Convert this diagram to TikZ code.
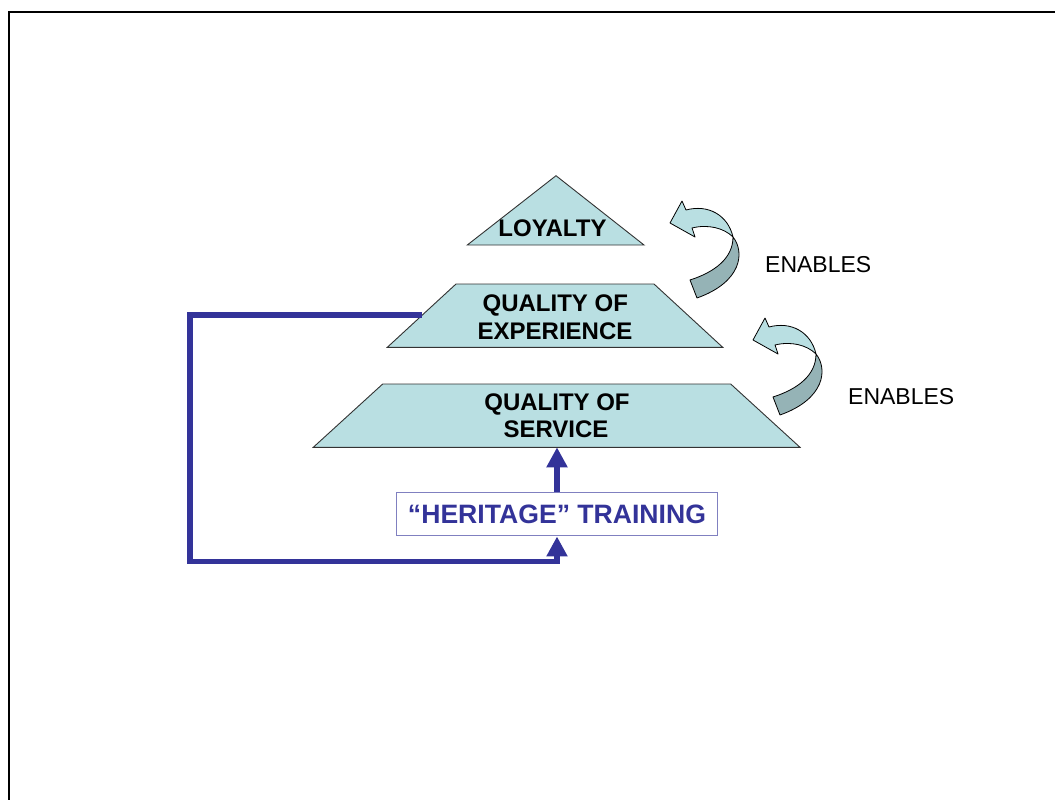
\documentclass[tikz,border=0pt]{standalone}
\usepackage{fontspec}
\setmainfont{Liberation Sans}
\usetikzlibrary{arrows.meta}
\definecolor{tealfill}{HTML}{B9DFE2}
\definecolor{tealdark}{HTML}{95B3B6}
\definecolor{navy}{HTML}{333399}
\definecolor{boxline}{HTML}{8080C0}
\tikzset{
  layer/.style={fill=tealfill, draw=black!80, line width=0.9pt, line join=miter},
  lbl/.style={font=\fontsize{24}{28}\selectfont\bfseries, inner sep=0pt, anchor=base},
  enab/.style={font=\fontsize{23}{27}\selectfont, inner sep=0pt, anchor=base west},
  ribbonlight/.style={fill=tealfill, draw=black, line width=0.8pt, line join=round},
  ribbondark/.style={fill=tealdark, draw=black, line width=0.8pt, line join=round},
  feed/.style={draw=navy, line width=5.5pt, line join=miter},
  feedtip/.style={-{Triangle[width=20pt,length=20pt]}},
}
\begin{document}
\begin{tikzpicture}[x=1pt,y=-1pt]
\useasboundingbox (0,0) rectangle (1055,800);
% frame
\draw[line width=2pt] (9,800) -- (9,12.5) -- (1055,12.5);

% layers
\draw[layer] (556,175.7) -- (644,245) -- (467.3,245) -- cycle;
\draw[layer] (456,284) -- (654,284) -- (722.7,347.3) -- (387.3,347.3) -- cycle;
\draw[layer] (382.7,384) -- (730.7,384) -- (800,447.3) -- (313.3,447.3) -- cycle;

\coordinate (svcbottom) at (557,447.3);
\coordinate (expleft) at (421.5,315);
\coordinate (corner1) at (190,315);
\coordinate (corner2) at (190,561.7);
\coordinate (corner3) at (557,561.7);

% labels
\node[lbl] (loy) at (552.5,236.7) {LOYALTY};
\node[lbl] (exp1) at (555.3,311.7) {QUALITY OF};
\node[lbl] (exp2) at (555,339.3) {EXPERIENCE};
\node[lbl] (svc1) at (557,410.7) {QUALITY OF};
\node[lbl] (svc2) at (556,437.3) {SERVICE};

% heritage box
\node[draw=boxline, line width=1pt, minimum width=320.6pt, minimum height=43.3pt,
      inner sep=0pt, text=navy, text height=19pt, text depth=0pt,
      font=\fontsize{26.6}{30}\selectfont\bfseries] (box) at (557,514.3) {“HERITAGE” TRAINING};

% arrows
\draw[feed, feedtip] (box.north) -- (svcbottom);
\draw[feed, feedtip] (expleft) -- (corner1) -- (corner2) -- (corner3) -- (box.south);

% curved ENABLES arrows
\foreach \dx/\dy in {0/0, 83/117}{
  \begin{scope}[shift={(\dx,\dy)}]
    \draw[ribbondark] (733,237) .. controls (745,252) and (742,282) .. (697,298)
      -- (690,280) .. controls (715,272) and (733,258) .. (733,237) -- cycle;
    \draw[ribbonlight] (670,223) -- (682,201) -- (686,210)
      .. controls (708,204) and (728,215) .. (733,237)
      .. controls (724,228) and (708,224) .. (692,228) -- (695,237) -- cycle;
  \end{scope}
}

\node[enab] (en1) at (765,272) {ENABLES};
\node[enab] (en2) at (848,404) {ENABLES};
\end{tikzpicture}
\end{document}
